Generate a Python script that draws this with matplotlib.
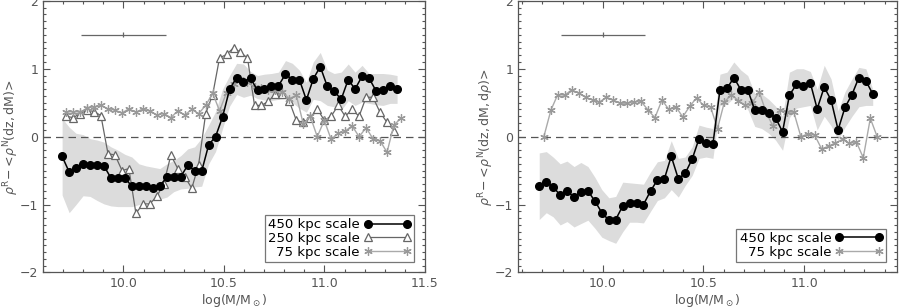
import numpy as np
import matplotlib
matplotlib.use('Agg')
from matplotlib import pyplot as plt
from matplotlib.ticker import MultipleLocator

# ---- left panel data: rho^R - <rho^N(dz,dM)> ----
x450_a = [9.695, 9.730, 9.764, 9.799, 9.834, 9.869, 9.903, 9.938, 9.973, 10.007,
          10.042, 10.077, 10.111, 10.146, 10.181, 10.216, 10.250, 10.285, 10.320, 10.354,
          10.389, 10.424, 10.458, 10.493, 10.528, 10.563, 10.597, 10.632, 10.667, 10.701,
          10.736, 10.771, 10.806, 10.840, 10.875, 10.910, 10.944, 10.979, 11.014, 11.048,
          11.083, 11.118, 11.152, 11.187, 11.222, 11.257, 11.291, 11.326, 11.361]
y450_a = [-0.29, -0.52, -0.46, -0.40, -0.41, -0.42, -0.43, -0.61, -0.61, -0.61,
          -0.73, -0.73, -0.73, -0.75, -0.72, -0.60, -0.60, -0.59, -0.42, -0.50,
          -0.51, -0.12, 0.00, 0.29, 0.70, 0.87, 0.81, 0.86, 0.68, 0.70,
          0.74, 0.75, 0.92, 0.84, 0.84, 0.54, 0.85, 1.03, 0.74, 0.67,
          0.55, 0.84, 0.70, 0.89, 0.86, 0.67, 0.69, 0.74, 0.70]
band_hi_a = [0.27, 0.14, 0.05, 0.03, -0.03, -0.05, -0.08, -0.15, -0.20, -0.26,
             -0.30, -0.40, -0.43, -0.45, -0.47, -0.40, -0.35, -0.28, -0.18, -0.15,
             -0.02, 0.17, 0.37, 0.70, 0.90, 1.08, 1.07, 0.96, 0.90, 0.92,
             0.93, 0.95, 1.12, 1.08, 0.98, 0.80, 1.10, 1.24, 0.98, 0.93,
             0.95, 1.07, 0.95, 1.05, 0.93, 0.93, 0.93, 0.92, 0.90]
band_lo_a = [-0.86, -1.12, -1.00, -0.87, -0.88, -0.94, -0.99, -1.02, -1.03, -1.03,
             -1.03, -1.00, -0.97, -0.94, -0.92, -0.89, -0.81, -0.77, -0.76, -0.74,
             -0.73, -0.40, -0.22, 0.12, 0.45, 0.62, 0.58, 0.61, 0.56, 0.54,
             0.53, 0.55, 0.56, 0.50, 0.42, 0.36, 0.55, 0.53, 0.46, 0.44,
             0.39, 0.53, 0.46, 0.51, 0.49, 0.47, 0.46, 0.49, 0.49]

x250_a = [9.715, 9.750, 9.784, 9.819, 9.854, 9.888, 9.923, 9.958, 9.993, 10.027,
          10.062, 10.097, 10.131, 10.166, 10.201, 10.236, 10.270, 10.305, 10.340, 10.374,
          10.409, 10.444, 10.478, 10.513, 10.548, 10.582, 10.617, 10.652, 10.686, 10.721,
          10.756, 10.791, 10.825, 10.860, 10.895, 10.929, 10.964, 10.999, 11.033, 11.068,
          11.103, 11.137, 11.172, 11.207, 11.241, 11.276, 11.311, 11.345]
y250_a = [0.30, 0.28, 0.34, 0.39, 0.37, 0.31, -0.25, -0.27, -0.50, -0.47,
          -1.13, -0.99, -0.99, -0.88, -0.69, -0.27, -0.47, -0.59, -0.76, -0.41,
          0.34, 0.62, 1.16, 1.21, 1.31, 1.24, 1.16, 0.46, 0.46, 0.52,
          0.63, 0.63, 0.52, 0.24, 0.21, 0.28, 0.41, 0.24, 0.30, 0.46,
          0.30, 0.40, 0.30, 0.58, 0.58, 0.36, 0.21, 0.09]

x75_a = [9.715, 9.750, 9.784, 9.819, 9.854, 9.888, 9.923, 9.958, 9.993, 10.027,
         10.062, 10.097, 10.131, 10.166, 10.201, 10.236, 10.270, 10.305, 10.340, 10.374,
         10.409, 10.444, 10.478, 10.513, 10.548, 10.582, 10.617, 10.652, 10.686, 10.721,
         10.756, 10.791, 10.825, 10.860, 10.895, 10.929, 10.964, 10.999, 11.033, 11.068,
         11.103, 11.137, 11.172, 11.207, 11.241, 11.276, 11.311, 11.345, 11.380]
y75_a = [0.36, 0.37, 0.36, 0.42, 0.44, 0.46, 0.41, 0.39, 0.35, 0.41,
         0.36, 0.41, 0.38, 0.32, 0.34, 0.28, 0.38, 0.32, 0.40, 0.34,
         0.46, 0.64, 0.38, 0.65, 0.78, 0.85, 0.80, 0.73, 0.71, 0.68,
         0.68, 0.66, 0.56, 0.61, 0.18, 0.30, 0.00, 0.24, -0.04, 0.05,
         0.08, 0.16, 0.00, 0.13, -0.03, -0.06, -0.23, 0.17, 0.27]

# ---- right panel data: rho^R - <rho^N(dz,dM,drho)> ----
x450_b = [9.684, 9.719, 9.753, 9.788, 9.822, 9.857, 9.891, 9.926, 9.961, 9.995,
          10.030, 10.064, 10.099, 10.133, 10.168, 10.202, 10.237, 10.271, 10.306, 10.340,
          10.375, 10.409, 10.444, 10.478, 10.513, 10.547, 10.582, 10.617, 10.651, 10.686,
          10.720, 10.755, 10.789, 10.824, 10.858, 10.893, 10.927, 10.962, 10.996, 11.031,
          11.065, 11.100, 11.134, 11.169, 11.203, 11.238, 11.272, 11.307, 11.341]
y450_b = [-0.73, -0.67, -0.74, -0.86, -0.80, -0.89, -0.81, -0.80, -0.95, -1.12,
          -1.23, -1.22, -1.02, -0.98, -0.98, -1.00, -0.80, -0.64, -0.62, -0.29,
          -0.62, -0.54, -0.33, -0.03, -0.09, -0.11, 0.69, 0.71, 0.87, 0.69,
          0.69, 0.39, 0.39, 0.35, 0.28, 0.07, 0.61, 0.77, 0.75, 0.79,
          0.41, 0.73, 0.54, 0.10, 0.43, 0.62, 0.87, 0.82, 0.63]
band_hi_b = [-0.24, -0.22, -0.30, -0.40, -0.36, -0.44, -0.38, -0.44, -0.60, -0.78,
             -0.90, -0.88, -0.67, -0.68, -0.69, -0.70, -0.52, -0.37, -0.35, -0.06,
             -0.32, -0.30, -0.15, 0.17, 0.14, 0.12, 0.92, 0.95, 1.10, 0.98,
             0.90, 0.63, 0.63, 0.55, 0.45, 0.30, 0.95, 1.00, 1.00, 0.96,
             0.70, 1.05, 0.85, 0.38, 0.66, 0.85, 1.02, 1.00, 0.70]
band_lo_b = [-1.22, -1.12, -1.18, -1.30, -1.25, -1.33, -1.28, -1.23, -1.35, -1.48,
             -1.53, -1.57, -1.40, -1.26, -1.26, -1.27, -1.10, -0.94, -0.90, -0.78,
             -0.89, -0.72, -0.57, -0.32, -0.30, -0.32, 0.46, 0.48, 0.57, 0.49,
             0.40, 0.15, 0.12, 0.05, -0.05, -0.20, 0.28, 0.42, 0.44, 0.46,
             0.10, 0.30, 0.16, -0.05, 0.14, 0.30, 0.44, 0.46, 0.46]

x75_b = [9.707, 9.742, 9.776, 9.811, 9.845, 9.880, 9.914, 9.949, 9.983, 10.018,
         10.052, 10.087, 10.121, 10.156, 10.190, 10.225, 10.259, 10.294, 10.328, 10.363,
         10.397, 10.432, 10.466, 10.501, 10.535, 10.570, 10.604, 10.639, 10.673, 10.708,
         10.742, 10.777, 10.811, 10.846, 10.880, 10.915, 10.949, 10.984, 11.018, 11.053,
         11.087, 11.122, 11.156, 11.191, 11.225, 11.260, 11.294, 11.329, 11.363]
y75_b = [0.00, 0.39, 0.62, 0.61, 0.69, 0.64, 0.58, 0.54, 0.51, 0.58,
         0.54, 0.49, 0.49, 0.51, 0.52, 0.39, 0.28, 0.54, 0.40, 0.44,
         0.29, 0.45, 0.57, 0.46, 0.44, 0.12, 0.51, 0.62, 0.53, 0.46,
         0.49, 0.66, 0.36, 0.15, 0.39, 0.36, 0.36, 0.00, 0.04, 0.02,
         -0.18, -0.14, -0.09, -0.04, -0.10, -0.08, -0.31, 0.27, 0.00]

AXC = '#555555'
plt.rcParams['font.family'] = 'DejaVu Sans'
plt.rcParams['mathtext.fontset'] = 'dejavusans'

fig = plt.figure(figsize=(9.02, 3.08), dpi=100)
ax1 = fig.add_axes([0.0477, 0.1153, 0.4235, 0.882])
ax2 = fig.add_axes([0.5746, 0.1153, 0.4195, 0.882])


def style(ax, xlim, ylabel):
    ax.set_xlim(xlim)
    ax.set_ylim(-2, 2)
    ax.xaxis.set_major_locator(MultipleLocator(0.5))
    ax.xaxis.set_minor_locator(MultipleLocator(0.1))
    ax.yaxis.set_major_locator(MultipleLocator(1))
    ax.yaxis.set_minor_locator(MultipleLocator(0.1))
    ax.xaxis.set_major_formatter(plt.FuncFormatter(lambda v, p: '%.1f' % v))
    ax.yaxis.set_major_formatter(plt.FuncFormatter(lambda v, p: ('%d' % v).replace('-', '\u2212')))
    ax.tick_params(which='both', direction='in', top=True, right=True,
                   colors=AXC, labelsize=9, width=0.8)
    ax.tick_params(which='major', length=5)
    ax.tick_params(which='minor', length=2.5)
    for s in ax.spines.values():
        s.set_color(AXC)
        s.set_linewidth(0.9)
    ax.set_xlabel(r'log(M/M$_\odot$)', color=AXC, fontsize=9, labelpad=1)
    ax.set_ylabel(ylabel, color=AXC, fontsize=9, labelpad=-1)
    ax.axhline(0, color=AXC, lw=0.9, ls=(0, (6, 4)), zorder=2)
    ax.errorbar([10.0], [1.5], xerr=[0.21], yerr=[0.035], fmt='none',
                ecolor='#666666', elinewidth=0.9, capsize=0)


# left panel
style(ax1, (9.6, 11.5), r'$\rho^{\rm R}\!-\!<\!\rho^{\rm N}{\rm (dz,dM)}\!>$')
ax1.fill_between(x450_a, band_lo_a, band_hi_a, color='#dcdcdc', lw=0, zorder=1)
ax1.plot(x250_a, y250_a, color='#666666', lw=0.9, marker='^', ms=5.5,
         mfc='white', mec='#666666', mew=0.9, zorder=3, label='250 kpc scale')
ax1.plot(x75_a, y75_a, color='#aaaaaa', lw=1.0, marker=(6, 2, 0), ms=6,
         mec='#999999', mew=0.9, zorder=4, label='75 kpc scale')
ax1.plot(x450_a, y450_a, color='black', lw=1.1, marker='o', ms=5.5,
         mfc='black', mec='black', zorder=5, label='450 kpc scale')
h, l = ax1.get_legend_handles_labels()
order = [2, 0, 1]
leg1 = ax1.legend([h[i] for i in order], [l[i] for i in order], loc='lower right',
                  markerfirst=False, numpoints=2, handlelength=3.6, fontsize=9.5,
                  frameon=True, fancybox=False, edgecolor=AXC, borderpad=0.25,
                  labelspacing=0.05, handletextpad=0.3, borderaxespad=0.8)
leg1.get_frame().set_linewidth(0.9)

# right panel
style(ax2, (9.58, 11.46), r'$\rho^{\rm R}\!-\!<\!\rho^{\rm N}{\rm (dz,dM,d}\rho{\rm )}\!>$')
ax2.fill_between(x450_b, band_lo_b, band_hi_b, color='#dcdcdc', lw=0, zorder=1)
ax2.plot(x75_b, y75_b, color='#aaaaaa', lw=1.0, marker=(6, 2, 0), ms=6,
         mec='#999999', mew=0.9, zorder=4, label='75 kpc scale')
ax2.plot(x450_b, y450_b, color='black', lw=1.1, marker='o', ms=5.5,
         mfc='black', mec='black', zorder=5, label='450 kpc scale')
h, l = ax2.get_legend_handles_labels()
leg2 = ax2.legend([h[1], h[0]], [l[1], l[0]], loc='lower right',
                  markerfirst=False, numpoints=2, handlelength=3.6, fontsize=9.5,
                  frameon=True, fancybox=False, edgecolor=AXC, borderpad=0.25,
                  labelspacing=0.05, handletextpad=0.3, borderaxespad=0.8)
leg2.get_frame().set_linewidth(0.9)

fig.savefig('out.png', dpi=100)
